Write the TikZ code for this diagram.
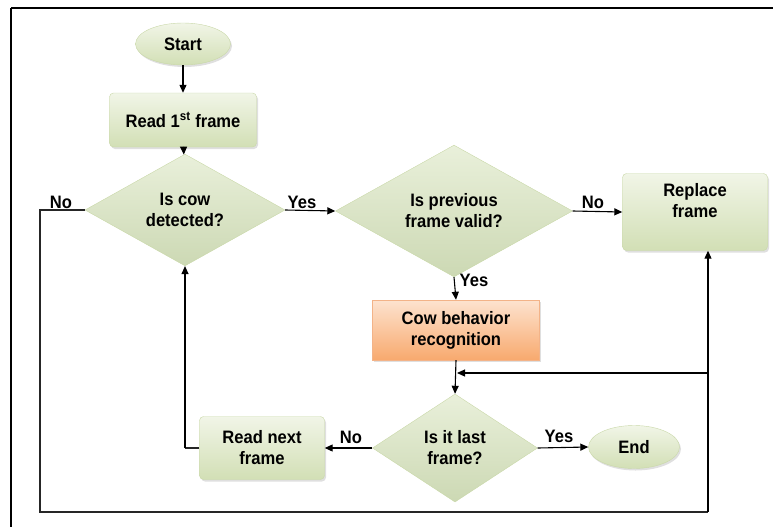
\documentclass[tikz,border=0pt]{standalone}
\usepackage{fontspec}
\setmainfont{Liberation Sans}[FakeStretch=0.92]
\usetikzlibrary{shapes.geometric,arrows.meta,shadows}
\definecolor{gtop}{HTML}{F1F5E7}
\definecolor{gbot}{HTML}{D2DFB5}
\definecolor{gdraw}{HTML}{C9D8A8}
\definecolor{dfill}{HTML}{D7E4BD}
\definecolor{otop}{HTML}{FDE3CF}
\definecolor{obot}{HTML}{F8A96E}
\definecolor{odraw}{HTML}{F3B388}
\begin{document}
\begin{tikzpicture}[x=1pt,y=-1pt,
  txt/.style={font=\bfseries\fontsize{18}{21}\selectfont},
  shad/.style={drop shadow={opacity=0.25,shadow xshift=1.5pt,shadow yshift=-2pt}},
  gbox/.style={rectangle,rounded corners=4pt,draw=gdraw,top color=gtop,bottom color=gbot,shad,align=center,inner sep=0pt,txt},
  obox/.style={rectangle,draw=odraw,top color=otop,bottom color=obot,shad,align=center,inner sep=0pt,txt},
  gell/.style={ellipse,draw=gdraw,top color=gtop,bottom color=gbot,shad,inner sep=0pt,txt},
  gdia/.style={diamond,draw=gdraw,top color=gtop!70!dfill,bottom color=dfill!95!black,align=center,inner sep=0pt,txt},
  arr/.style={draw=black,line width=1.1pt,-{Triangle[length=8pt,width=7pt]}},
  ln/.style={draw=black!85,line width=1.1pt},
  lab/.style={txt,inner sep=0pt}
]
\useasboundingbox (0,0) rectangle (773,527);
\draw[line width=1.4pt] (11,8) -- (773,8);
\draw[line width=1.4pt] (11,8) -- (11,527);

\node[gell,minimum width=95pt,minimum height=42pt] (start) at (183,44) {Start};
\node[gbox,minimum width=147pt,minimum height=54pt] (read1) at (183,120) {Read 1\textsuperscript{st} frame};
\node[gdia,minimum width=200pt,minimum height=100pt] (d1) at (185,210) {Is cow\\detected?};
\node[gdia,minimum width=237pt,minimum height=108pt] (d2) at (454,211) {Is previous\\frame valid?};
\node[gbox,minimum width=145pt,minimum height=77pt,
  label={[lab,align=center,anchor=north,yshift=-10pt]north:Replace\\frame}] (replace) at (695,212) {};
\node[obox,minimum width=167pt,minimum height=60pt] (cow) at (456,330) {Cow behavior\\recognition};
\node[gdia,minimum width=165pt,minimum height=108pt] (d3) at (455,448) {Is it last\\frame?};
\node[gell,minimum width=91pt,minimum height=43pt] (end) at (634,447) {End};
\node[gbox,minimum width=125pt,minimum height=63pt] (rnf) at (262,448) {Read next\\frame};

\coordinate (L1) at (40,210);
\coordinate (L2) at (40,512);
\coordinate (R1) at (708,512);
\coordinate (B) at (708,373);
\coordinate (K) at (185,448);

\draw[arr] (start) -- (read1);
\draw[arr] (read1) -- (d1);
\draw[arr] (d1.east) -- (d2.west);
\draw[arr] (d2.east) -- (replace.west);
\draw[arr] (d2.south) -- (cow.north);
\draw[arr] (cow.south) -- (d3.north);
\draw[arr] (d3.east) -- (end.west);
\draw[arr] (d3.west) -- (rnf.east);
\draw[ln] (rnf.west) -- (K);
\draw[arr] (K) -- (d1.south);
\draw[ln] (d1.west) -- (L1) -- (L2) -- (R1);
\draw[arr] (R1) -- (R1 |- replace.south);
\draw[arr] (B) -- ([xshift=1pt]B -| cow.south);

\node[lab] (n1) at (61,202) {No};
\node[lab] (y1) at (302,202) {Yes};
\node[lab] (n2) at (593,202) {No};
\node[lab] (y2) at (474,280) {Yes};
\node[lab] (n3) at (351,437) {No};
\node[lab] (y3) at (559,436) {Yes};
\end{tikzpicture}
\end{document}
